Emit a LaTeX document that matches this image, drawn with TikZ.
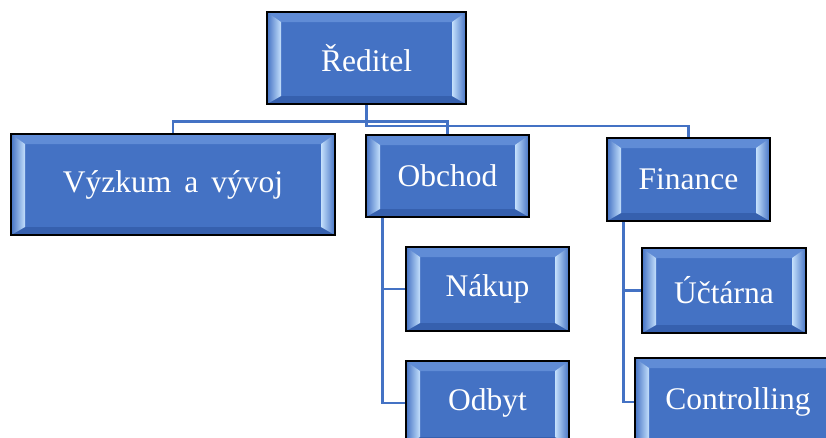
\documentclass[tikz,border=0pt]{standalone}
\usepackage{fontspec}
\setmainfont{Liberation Serif}
\usetikzlibrary{calc}
\definecolor{boxblue}{RGB}{68,114,196}
\definecolor{bevtop}{RGB}{96,140,214}
\definecolor{bevbot}{RGB}{54,96,174}
\definecolor{bevlight}{RGB}{196,224,252}
\definecolor{linkblue}{RGB}{68,114,196}
\tikzset{
  box/.style={draw=black, line width=1.8pt, fill=boxblue, inner sep=0pt, text=white,
    font=\fontsize{31.5}{36}\selectfont,
    path picture={
      \path (path picture bounding box.north west) coordinate (pnw)
            (path picture bounding box.north east) coordinate (pne)
            (path picture bounding box.south west) coordinate (psw)
            (path picture bounding box.south east) coordinate (pse);
      \fill[bevtop] (pnw) -- (pne) -- ($(pne)+(-14,10)$) -- ($(pnw)+(14,10)$) -- cycle;
      \fill[bevbot] (psw) -- (pse) -- ($(pse)+(-14,-8)$) -- ($(psw)+(14,-8)$) -- cycle;
      \shade[left color=boxblue, right color=bevlight] (pnw) -- ($(pnw)+(14,10)$) -- ($(psw)+(14,-8)$) -- (psw) -- cycle;
      \shade[left color=bevlight, right color=boxblue] (pne) -- ($(pne)+(-14,10)$) -- ($(pse)+(-14,-8)$) -- (pse) -- cycle;
    }},
  link/.style={draw=linkblue, line width=2.8pt}
}
\begin{document}
\begin{tikzpicture}[x=1pt,y=-1pt]
\useasboundingbox (0,0) rectangle (826,437);
\clip (0,0) rectangle (826,437);
\fill[white] (0,0) rectangle (826,437);
\node[box, minimum width=199, minimum height=92] (R) at (366.5,58) {Ředitel};
\node[box, minimum width=324, minimum height=101] (V) at (173,184.5) {Výzkum\hspace{13pt}a\hspace{13pt}vývoj};
\node[box, minimum width=163, minimum height=82] (O) at (447.5,176) {Obchod};
\node[box, minimum width=163, minimum height=83] (F) at (688.5,179.5) {Finance};
\node[box, minimum width=163, minimum height=84] (N) at (487.5,289) {Nákup};
\node[box, minimum width=163, minimum height=84] (D) at (487.5,403) {Odbyt};
\node[box, minimum width=164, minimum height=85] (U) at (724,290.5) {Účtárna};
\node[box, minimum width=206, minimum height=88] (C) at (738,402) {Controlling};
\draw[link] (R.south) -- ++(0,21) -| (F.north);
\draw[link] (V.north) -- ++(0,-12) -| (O.north);
\coordinate (oc) at ($(O.south west)+(17,0)$);
\draw[link] (oc) |- (N.west);
\draw[link] (oc) |- (D.west);
\coordinate (fc) at ($(F.south west)+(17,0)$);
\draw[link] (fc) |- (U.west);
\draw[link] (fc) |- (C.west);
\end{tikzpicture}
\end{document}
